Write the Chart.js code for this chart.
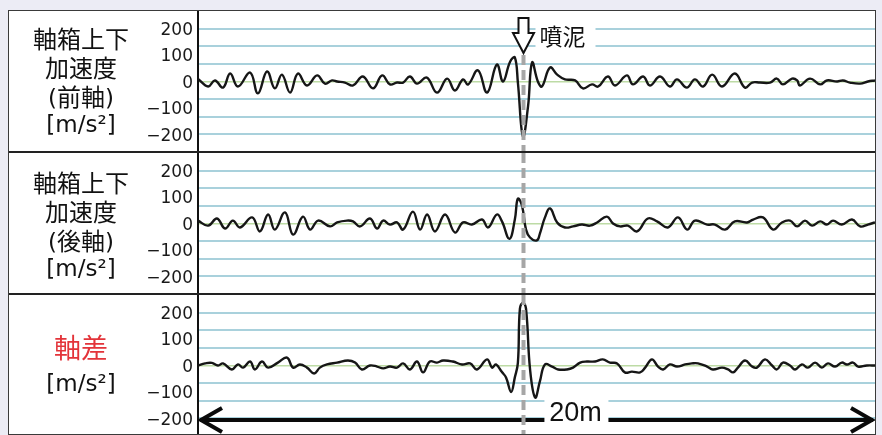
<!DOCTYPE html>
<html>
<head>
<meta charset="utf-8">
<script src="https://cdn.jsdelivr.net/npm/chart.js@4.4.1/dist/chart.umd.min.js"></script>
<style>
  html, body { margin: 0; padding: 0; background: #ececf5; width: 882px; height: 435px; overflow: hidden; }
  #sheet { position: absolute; left: 8px; top: 10px; width: 868px; height: 425px; background: #fff; z-index: 0; }
  #edge { position: absolute; left: 8px; top: 10px; width: 868px; height: 425px; border: 1.5px solid #3a3a3a; box-sizing: border-box; z-index: 2; pointer-events: none; }
  .panel { position: absolute; left: 10px; z-index: 1; }
  .panel canvas { display: block; }
  .rule { position: absolute; left: 8px; width: 868px; height: 2px; background: #222; z-index: 2; }
  .lab { position: absolute; left: 9px; width: 144px; text-align: center; z-index: 3;
         font-family: "DejaVu Sans", "Noto Sans CJK JP", sans-serif; font-size: 23px; line-height: 29px; color: #111; }
  .lab div { height: 29px; white-space: nowrap; }
  .lab .cjk { font-family: "Noto Sans CJK JP", sans-serif; font-size: 24px; }
</style>
</head>
<body>
<div id="sheet"></div>
<div class="panel" style="top:11px"><canvas id="front" width="865" height="141"></canvas></div>
<div class="panel" style="top:153px"><canvas id="rear" width="865" height="141"></canvas></div>
<div class="panel" style="top:295px"><canvas id="diff" width="865" height="141"></canvas></div>
<div class="rule" style="top:151px"></div>
<div class="rule" style="top:293px"></div>
<div id="edge"></div>

<div class="lab" style="top:23px"><div class="cjk">軸箱上下</div><div class="cjk">加速度</div><div>(<span class="cjk">前軸</span>)</div><div>[m/s²]</div></div>
<div class="lab" style="top:167px"><div class="cjk">軸箱上下</div><div class="cjk">加速度</div><div>(<span class="cjk">後軸</span>)</div><div>[m/s²]</div></div>
<div class="lab" style="top:332px;line-height:30px;color:#e3343a"><div class="cjk" style="height:30px;font-size:27px">軸差</div></div>
<div class="lab" style="top:369px"><div>[m/s²]</div></div>

<script>
// Distance along the track [m] and vertical axle-box acceleration [m/s²]
const frontPos = [0.00,0.30,0.50,0.74,0.95,1.18,1.54,1.77,2.04,2.27,
                  2.48,2.72,2.95,3.22,3.52,3.75,3.96,4.11,4.34,4.58,
                  4.87,5.17,5.44,5.67,5.88,6.06,6.26,6.47,6.76,7.06,
                  7.36,7.59,7.83,7.98,8.27,8.54,8.83,9.01,9.22,9.36,
                  9.45,9.60,9.75,9.87,10.04,10.16,10.40,10.61,10.84,11.14,
                  11.37,11.64,11.82,12.11,12.32,12.67,12.85,13.15,13.35,13.65,
                  13.94,14.15,14.44,14.68,14.92,15.19,15.48,15.86,16.16,16.37,
                  16.60,16.90,17.10,17.28,17.55,17.70,17.78,18.08,18.38,18.58,
                  18.88,19.05,19.26,19.56,19.79,20.00];
const frontAcc = [10,-19,4,-23,30,-19,34,-45,38,-26,
                  26,-42,30,-15,23,-8,4,0,-4,-15,
                  19,-26,23,-11,-4,-4,19,-8,15,-42,
                  11,-34,8,-11,42,-42,64,0,75,91,
                  -4,-208,-94,72,0,-19,53,26,8,4,
                  -26,-11,-19,19,-15,23,-11,19,-15,19,
                  -19,8,-23,8,-19,26,-19,30,-23,-4,
                  -4,-4,11,-11,11,4,-15,11,-11,4,
                  0,4,-4,-8,0,4];

const rearPos = [0.00,0.30,0.56,0.80,1.03,1.24,1.60,1.83,2.07,2.27,
                 2.57,2.81,3.10,3.31,3.55,3.90,4.11,4.40,4.58,4.79,
                 5.08,5.29,5.47,5.67,5.88,6.06,6.35,6.56,6.77,7.00,
                 7.30,7.59,7.83,8.09,8.39,8.57,8.83,8.98,9.20,9.36,
                 9.45,9.57,9.69,9.81,10.01,10.10,10.25,10.40,10.61,10.84,
                 11.08,11.34,11.58,11.79,12.08,12.26,12.47,12.70,12.97,13.29,
                 13.56,13.88,14.18,14.45,14.68,15.04,15.27,15.57,15.86,16.22,
                 16.40,16.69,16.99,17.25,17.49,17.70,17.93,18.14,18.38,18.58,
                 18.76,19.02,19.32,19.56,19.79,20.00];
const rearAcc = [11,-8,19,-19,11,-15,23,-30,34,-23,
                 42,-42,26,-23,11,-11,4,11,8,-11,
                 19,-19,11,-4,4,-23,45,-23,34,-30,
                 34,-34,4,-4,15,-15,34,8,-58,15,
                 94,68,-23,-53,-64,-38,23,57,4,-15,
                 -11,-4,-8,4,26,0,-11,-8,-30,19,
                 8,-15,23,-23,11,-4,-4,-23,8,4,
                 15,23,-23,4,11,-11,11,-8,8,-4,
                 11,-4,15,-11,-4,4];

const diffPos = [0.00,0.21,0.41,0.59,0.74,1.00,1.18,1.33,1.54,1.68,
                 1.89,2.07,2.36,2.63,2.81,3.01,3.22,3.43,3.60,3.81,
                 4.11,4.43,4.64,4.84,5.08,5.29,5.47,5.67,5.88,6.06,
                 6.26,6.47,6.65,6.85,7.06,7.24,7.53,7.80,8.04,8.24,
                 8.54,8.69,8.80,8.98,9.10,9.25,9.36,9.45,9.51,9.60,
                 9.69,9.81,9.96,10.10,10.25,10.46,10.64,10.90,11.08,11.29,
                 11.49,11.73,11.96,12.17,12.38,12.61,12.82,13.06,13.21,13.41,
                 13.59,13.74,13.94,14.15,14.39,14.59,14.77,15.04,15.21,15.48,
                 15.66,15.81,15.95,16.16,16.37,16.51,16.75,16.96,17.10,17.28,
                 17.49,17.64,17.84,18.02,18.23,18.43,18.61,18.82,19.02,19.17,
                 19.35,19.50,19.76,20.00];
const diffAcc = [0,8,10,0,8,-15,4,-8,15,-15,
                 15,-8,11,30,-8,4,-8,-30,-8,4,
                 11,19,11,-15,0,-4,-11,-4,-8,8,
                 -15,15,-26,15,11,19,15,4,8,-15,
                 23,-8,4,-25,-45,-100,-45,10,215,238,
                 215,-15,-121,-60,4,-4,-15,-15,-8,11,
                 15,15,23,11,8,-26,-23,-26,-8,23,
                 -4,-15,4,-4,4,8,8,-4,-15,-8,
                 -15,-26,-8,19,-4,-8,23,0,-15,11,
                 0,-15,4,-8,11,-8,8,-4,11,4,
                 11,-4,0,0];

// Axis settings
const xMin = 0, xMax = 20;
const yMin = -266.67, yMax = 266.67;
const yLabelTicks = [-200, -100, 0, 100, 200];
const yGridTicks = [-200, -133.33, -66.67, 0, 66.67, 133.33, 200];

// Annotations
const mudPos = 9.60;          // where the mud pumping (噴泥) spot is
const mudText = '噴泥';
const spanText = '20m';
const spanLabelPos = 11.15;

const GRID_BLUE = '#a9d1dc';
const ZERO_GREEN = '#bddba5';
const allTicks = [...new Set([...yLabelTicks, ...yGridTicks])].sort((a, b) => a - b);

function yAxis() {
  return {
    type: 'linear', position: 'left', min: yMin, max: yMax,
    afterBuildTicks: s => { s.ticks = allTicks.map(v => ({ value: v })); },
    afterFit: s => { s.width = 188; s.paddingTop = 0; s.paddingBottom = 0; },
    ticks: {
      autoSkip: false, padding: 5, labelOffset: 2, color: '#1a1a1a',
      font: { family: '"DejaVu Sans", sans-serif', size: 17 },
      callback: v => yLabelTicks.includes(v) ? (v < 0 ? '\u2212' + Math.abs(v) : String(v)) : ''
    },
    grid: {
      drawTicks: false,
      lineWidth: c => (c.tick && c.tick.value === 0) ? 1.5 : 2,
      color: c => {
        const v = c.tick ? c.tick.value : null;
        if (v === 0) return ZERO_GREEN;
        return yGridTicks.includes(v) ? GRID_BLUE : 'rgba(0,0,0,0)';
      }
    },
    border: { display: true, color: '#111', width: 2 }
  };
}

// Dashed event line, the down arrow with its label, and the 20 m span arrow
const marks = {
  id: 'marks',
  afterDatasetsDraw(chart, args, opts) {
    const { ctx, chartArea: a, scales: { x } } = chart;
    const px = Math.round(x.getPixelForValue(mudPos)) + 0.5;
    ctx.save();

    if (opts.span) {
      const y = a.top + 125;
      ctx.strokeStyle = '#0a0a0a';
      ctx.lineWidth = 4;
      ctx.lineJoin = 'miter';
      ctx.beginPath();
      ctx.moveTo(a.left + 2, y); ctx.lineTo(a.right - 2, y);
      ctx.stroke();
      ctx.beginPath();
      ctx.moveTo(a.left + 24, y - 12); ctx.lineTo(a.left + 3, y); ctx.lineTo(a.left + 24, y + 12);
      ctx.moveTo(a.right - 24, y - 12); ctx.lineTo(a.right - 3, y); ctx.lineTo(a.right - 24, y + 12);
      ctx.stroke();
      const lx = x.getPixelForValue(spanLabelPos);
      ctx.fillStyle = '#fff';
      ctx.fillRect(lx - 31, a.top + 104, 64, 40);
      ctx.fillStyle = '#111';
      ctx.font = '27px "Liberation Sans", Arial, sans-serif';
      ctx.textAlign = 'center';
      ctx.textBaseline = 'middle';
      ctx.fillText(spanText, lx, a.top + 119);
    }

    let dashTop = a.top;
    if (opts.flag) {
      const t = a.top;
      ctx.fillStyle = '#fff';
      ctx.fillRect(px + 12, t + 9, 60, 36);
      ctx.beginPath();
      ctx.moveTo(px - 5, t + 7); ctx.lineTo(px + 5, t + 7); ctx.lineTo(px + 5, t + 22);
      ctx.lineTo(px + 10.5, t + 22); ctx.lineTo(px, t + 42); ctx.lineTo(px - 10.5, t + 22);
      ctx.lineTo(px - 5, t + 22); ctx.closePath();
      ctx.fill();
      ctx.strokeStyle = '#111'; ctx.lineWidth = 2; ctx.lineJoin = 'miter';
      ctx.stroke();
      ctx.fillStyle = '#111';
      ctx.font = '23px "Noto Sans CJK JP", sans-serif';
      ctx.textAlign = 'left';
      ctx.textBaseline = 'middle';
      ctx.fillText(mudText, px + 16, t + 25);
      dashTop = t + 44;
    }

    ctx.strokeStyle = '#a6a6a6';
    ctx.lineWidth = 4;
    ctx.setLineDash([10, 5]);
    ctx.beginPath();
    ctx.moveTo(px, dashTop); ctx.lineTo(px, a.bottom);
    ctx.stroke();
    ctx.restore();
  }
};

function panel(id, pos, acc, markOpts) {
  return new Chart(document.getElementById(id), {
    type: 'line',
    data: {
      datasets: [{
        data: pos.map((p, i) => ({ x: p, y: acc[i] })),
        borderColor: '#161616', borderWidth: 2.4,
        pointRadius: 0, tension: 0.42, fill: false
      }]
    },
    options: {
      responsive: false, animation: false, events: [],
      layout: { padding: 0, autoPadding: false },
      plugins: { legend: { display: false }, tooltip: { enabled: false }, marks: markOpts },
      scales: {
        x: { type: 'linear', min: xMin, max: xMax, display: false },
        y: yAxis()
      }
    },
    plugins: [marks]
  });
}

panel('front', frontPos, frontAcc, { flag: true });
panel('rear', rearPos, rearAcc, {});
panel('diff', diffPos, diffAcc, { span: true });
</script>
</body>
</html>
